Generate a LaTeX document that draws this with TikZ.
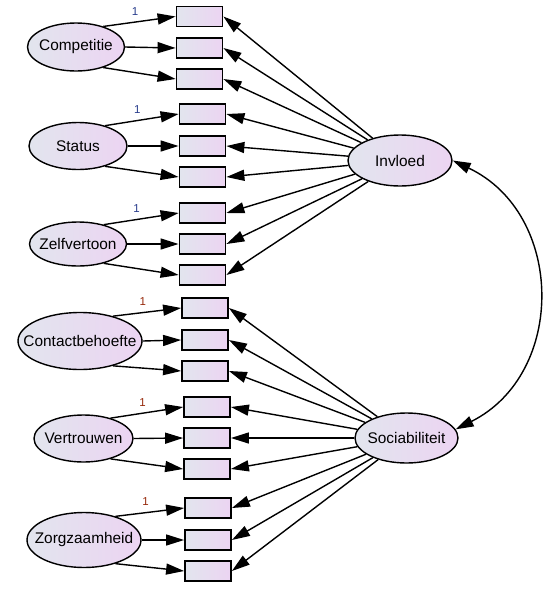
\documentclass[tikz,border=0pt]{standalone}
\usepackage{fontspec}
\setmainfont{Liberation Sans}
\usetikzlibrary{shapes.geometric}
\usetikzlibrary{arrows.meta}

\definecolor{fillleft}{RGB}{226,229,238}
\definecolor{fillright}{RGB}{236,212,242}
\definecolor{fixblue}{RGB}{40,60,140}
\definecolor{fixred}{RGB}{150,40,10}

% text that does not widen the ellipse
\newcommand{\ctext}[1]{\makebox[0pt]{#1}}

\begin{document}
\begin{tikzpicture}[x=1pt, y=1pt, >={Triangle[length=18pt,width=11pt]}, line width=1.4pt,
    latent/.style={ellipse, draw, line width=1.4pt, left color=fillleft, right color=fillright,
        inner sep=0pt, font=\fontsize{15.4}{18}\selectfont},
    indbox/.style={rectangle, draw, line width=1.8pt, left color=fillleft, right color=fillright,
        minimum width=46pt, minimum height=20pt, inner sep=0pt},
    fixone/.style={font=\fontsize{11.5}{12}\selectfont, above=3pt, pos=0.44}]
        \useasboundingbox (0,0) rectangle (550,-598);

        % First-order factors
        \node[latent, minimum width=97pt, minimum height=48pt] (comp) at (76,-47) {\ctext{Competitie}};
        \node[latent, minimum width=98pt, minimum height=47pt] (stat) at (78,-146) {\ctext{Status}};
        \node[latent, minimum width=97pt, minimum height=44pt] (zelf) at (78,-244) {\ctext{Zelfvertoon}};
        \node[latent, minimum width=124pt, minimum height=57pt] (cont) at (80,-341) {\ctext{Contactbehoefte}};
        \node[latent, minimum width=99pt, minimum height=47pt] (vert) at (83.5,-438.5) {\ctext{Vertrouwen}};
        \node[latent, minimum width=114pt, minimum height=55pt] (zorg) at (84,-540) {\ctext{Zorgzaamheid}};

        % Second-order factors
        \node[latent, minimum width=104pt, minimum height=51pt] (invl) at (400,-160.5) {\ctext{Invloed}};
        \node[latent, minimum width=103pt, minimum height=50pt] (soci) at (406.5,-438) {\ctext{Sociabiliteit}};

        % Indicator boxes, three per factor
        \foreach \f/\x/\ya/\yb/\yc in {comp/199.5/16.5/48/79, stat/202.5/114/146/177,
                zelf/202.5/213/244/275, cont/205/308/340/371,
                vert/207/407/438/469, zorg/208/508/540/571} {
            \node[indbox] (\f1) at (\x,-\ya) {};
            \node[indbox] (\f2) at (\x,-\yb) {};
            \node[indbox] (\f3) at (\x,-\yc) {};
        }

        % Loadings of the first-order factors
        \foreach \f/\c in {comp/fixblue, stat/fixblue, zelf/fixblue,
                cont/fixred, vert/fixred, zorg/fixred} {
            \draw[->] (\f.37) -- node[fixone, text=\c] {1} (\f1.west);
            \draw[->] (\f.east) -- (\f2.west);
            \draw[->] (\f.-37) -- (\f3.west);
        }

        % Loadings of the second-order factors
        \foreach \f in {comp, stat, zelf} {
            \foreach \i in {1,2,3}
                \draw[->] (invl) -- (\f\i.east);
        }
        \foreach \f in {cont, vert, zorg} {
            \foreach \i in {1,2,3}
                \draw[->] (soci) -- (\f\i.east);
        }

        % Covariance
        \draw[<->] (invl.east) to[bend left=64, looseness=1.18] (soci.10);

\end{tikzpicture}
\end{document}
